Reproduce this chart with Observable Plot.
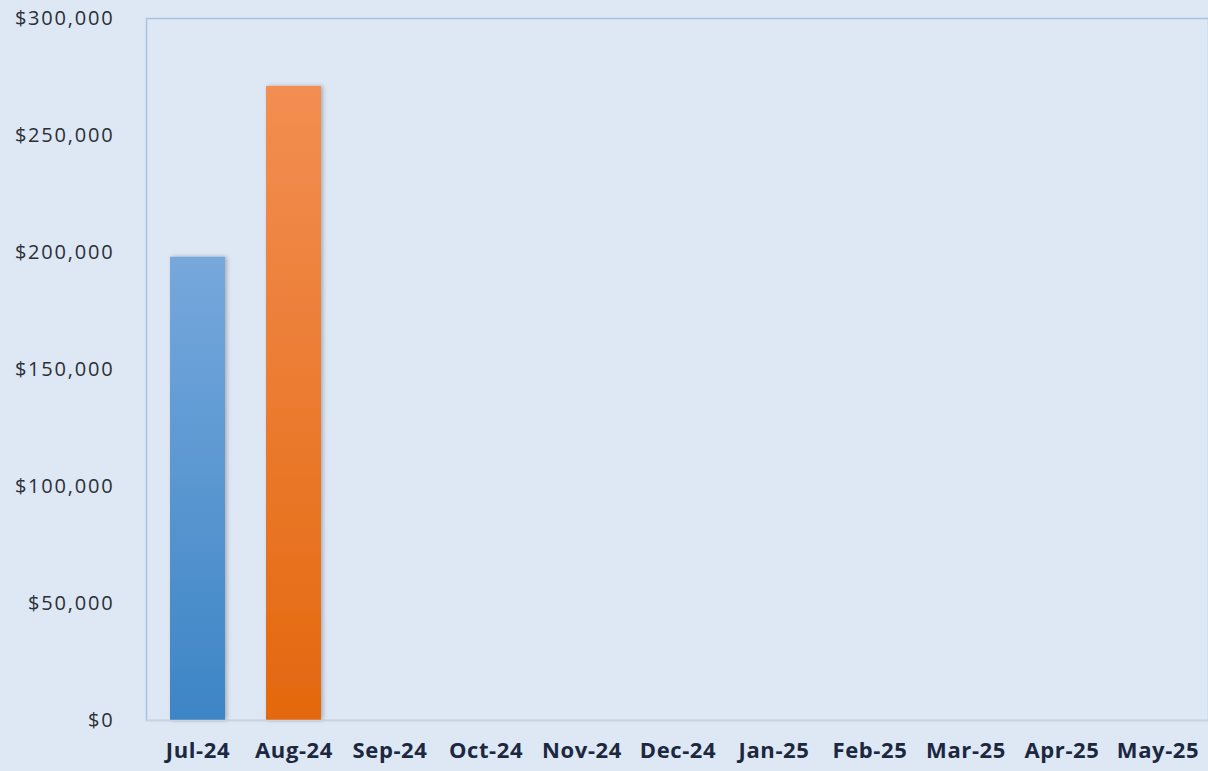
<!DOCTYPE html>
<html>
<head>
<meta charset="utf-8">
<script src="https://cdn.jsdelivr.net/npm/d3@7"></script>
<script src="https://cdn.jsdelivr.net/npm/@observablehq/plot@0.6"></script>
<style>
  html, body { margin: 0; padding: 0; background: #dee8f5; }
  #chart { width: 1208px; height: 771px; overflow: hidden; }
</style>
</head>
<body>
<div id="chart"></div>
<script>
// ---- data ----
const months = ["Jul-24","Aug-24","Sep-24","Oct-24","Nov-24","Dec-24","Jan-25","Feb-25","Mar-25","Apr-25","May-25"];
const amounts = [198000, 271000, 0, 0, 0, 0, 0, 0, 0, 0, 0];
const yTicks = [0, 50000, 100000, 150000, 200000, 250000, 300000];

// ---- style (not data) ----
const gradientStops = [
  ["#76a8dc", "#3d85c6"],
  ["#f28e52", "#e4680e"]
];

const rows = months.map((m, i) => ({month: m, amount: amounts[i], fill: i < gradientStops.length ? `url(#grad${i})` : "#5b9bd5"}));

const defs = () => {
  const svg = d3.create("svg:g");
  const d = svg.append("defs");
  gradientStops.forEach((s, i) => {
    const g = d.append("linearGradient").attr("id", "grad" + i).attr("x1", 0).attr("y1", 0).attr("x2", 0).attr("y2", 1);
    g.append("stop").attr("offset", "0%").attr("stop-color", s[0]);
    g.append("stop").attr("offset", "100%").attr("stop-color", s[1]);
  });
  const f = d.append("filter").attr("id", "shadow").attr("x", "-20%").attr("y", "-5%").attr("width", "140%").attr("height", "110%");
  f.append("feDropShadow").attr("dx", 2).attr("dy", 0).attr("stdDeviation", 2).attr("flood-color", "#000").attr("flood-opacity", 0.25);
  return svg.node();
};

const fmt = d => "$" + d3.format(",")(d);

const chart = Plot.plot({
  width: 1208,
  height: 771,
  marginLeft: 146,
  marginRight: 0,
  marginTop: 18,
  marginBottom: 51,
  style: {background: "#dee8f5", overflow: "visible"},
  x: {domain: months, paddingInner: 0.43, paddingOuter: 0.2, label: null},
  y: {domain: [0, 300000], label: null},
  color: {type: "identity"},
  marks: [
    defs,
    Plot.frame({stroke: "#a8c3e2", strokeWidth: 1.5}),
    Plot.barY(rows, {x: "month", y: "amount", fill: "fill", filter: d => d.amount > 0}),
    Plot.ruleY([0], {stroke: "#c9d3de", strokeWidth: 1.5}),
    Plot.axisX({tickSize: 0, tickPadding: 22, fontSize: 22, fontWeight: "bold", fill: "#1c2740", fontFamily: "Open Sans", label: null}),
    Plot.axisY({ticks: yTicks, tickSize: 0, tickPadding: 32, fontSize: 20, fill: "#2b2f36", fontFamily: "Open Sans", label: null, tickFormat: fmt})
  ]
});

d3.select(chart).selectAll("rect").filter(function(){ return (this.getAttribute("fill")||"").startsWith("url"); }).attr("filter", "url(#shadow)");
d3.select(chart).selectAll("g[aria-label='y-axis tick label'] text").attr("letter-spacing", "1.8px");
d3.select(chart).selectAll("g[aria-label='x-axis tick label'] text").attr("letter-spacing", "0.6px");
document.getElementById("chart").appendChild(chart);
</script>
</body>
</html>
